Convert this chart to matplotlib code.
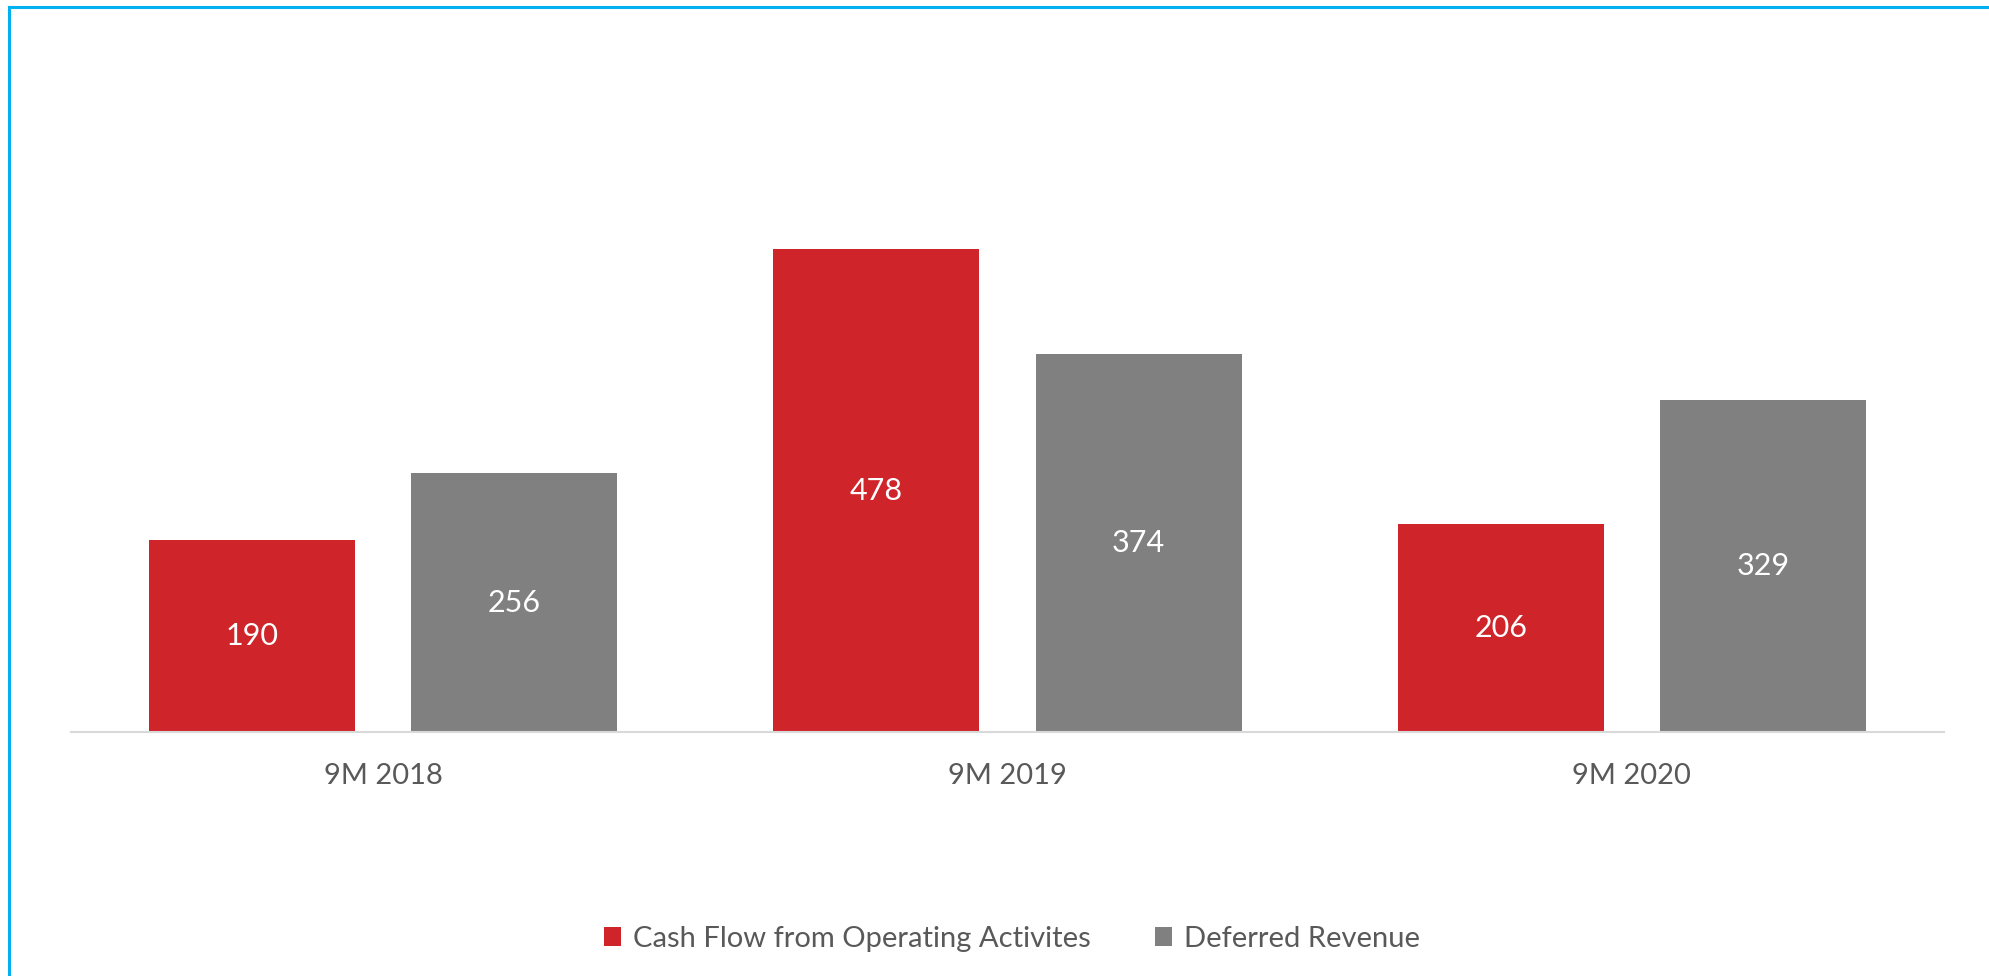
import numpy as np
import matplotlib.pyplot as plt
from matplotlib.lines import Line2D

categories = ['9M 2018', '9M 2019', '9M 2020']
cash_flow = [190, 478, 206]
deferred_revenue = [256, 374, 329]
series_names = ['Cash Flow from Operating Activites', 'Deferred Revenue']

plt.rcParams['font.family'] = ['Lato', 'DejaVu Sans']

W, H = 1990, 976
fig = plt.figure(figsize=(W / 100, H / 100), dpi=100)

# axes placed in pixel terms: x 71..1944, baseline at y=732
ax_left, ax_right = 71, 1944
ax_bottom, ax_top = 732, 126
ax = fig.add_axes([ax_left / W, 1 - ax_bottom / H,
                   (ax_right - ax_left) / W, (ax_bottom - ax_top) / H])

x = np.arange(len(categories))
bw = 0.33
off = 0.21
red = '#CF2429'
grey = '#808080'

b1 = ax.bar(x - off, cash_flow, bw, color=red, label=series_names[0])
b2 = ax.bar(x + off, deferred_revenue, bw, color=grey, label=series_names[1])

for bars in (b1, b2):
    ax.bar_label(bars, label_type='center', color='white', fontsize=22)

ax.set_xlim(-0.5, 2.5)
ax.set_ylim(0, 600)
ax.set_yticks([])
ax.set_xticks(x)
ax.set_xticklabels(categories, fontsize=21, color='#595959')
ax.tick_params(axis='x', length=0, pad=22)
for s in ['top', 'right', 'left']:
    ax.spines[s].set_visible(False)
ax.spines['bottom'].set_color('#D9D9D9')
ax.spines['bottom'].set_linewidth(1.5)

fig.legend(handles=[b1, b2], labels=series_names, loc='center',
           bbox_to_anchor=(1012 / W, 1 - 939 / H), ncol=2, frameon=False,
           fontsize=21, labelcolor='#595959', handlelength=0.6,
           handleheight=0.6, handletextpad=0.4, columnspacing=2.2)

# blue frame, only top and left edges visible
blue = '#00B0F0'
fig.add_artist(Line2D([9 / W, 1], [1 - 6.5 / H, 1 - 6.5 / H], color=blue, lw=2.2))
fig.add_artist(Line2D([9 / W, 9 / W], [0, 1 - 6.5 / H], color=blue, lw=2.2))

fig.savefig('out.png', dpi=100, facecolor='white')
